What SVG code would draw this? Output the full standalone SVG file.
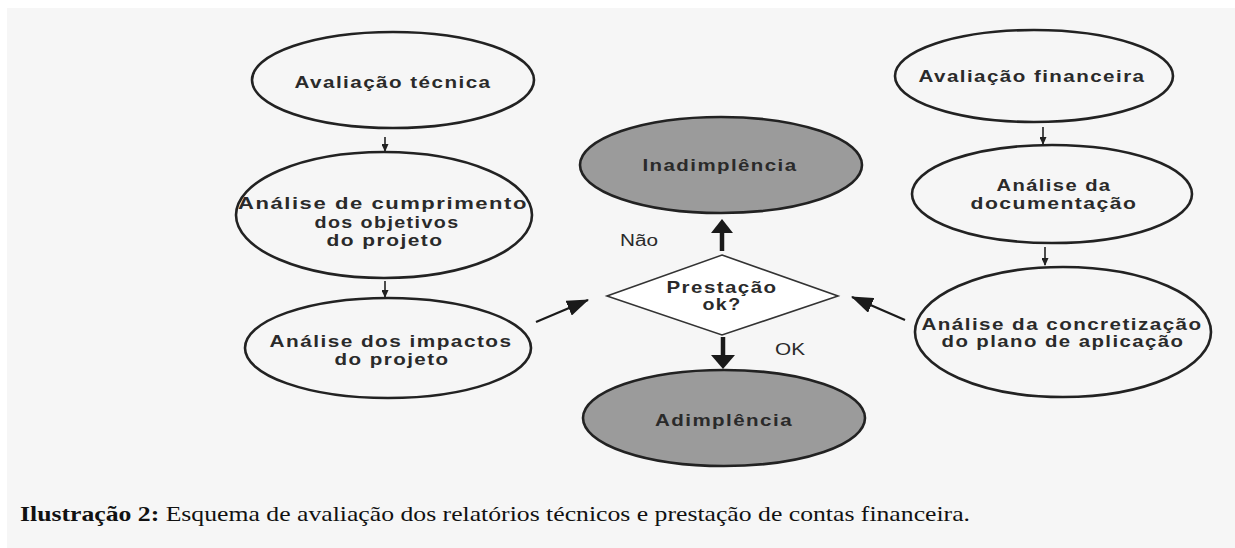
<svg xmlns="http://www.w3.org/2000/svg" width="1235" height="548" viewBox="0 0 1235 548">
<defs>
<marker id="sm" markerWidth="8" markerHeight="7" refX="7" refY="3.5" orient="auto" markerUnits="userSpaceOnUse">
<path d="M0,0 L8,3.5 L0,7 Z" fill="#222"/>
</marker>
<marker id="mid" markerWidth="22" markerHeight="16" refX="21" refY="8" orient="auto" markerUnits="userSpaceOnUse">
<path d="M0,0 L22,8 L0,16 Z" fill="#1a1a1a"/>
</marker>
</defs>
<style>
.el{fill:none;stroke:#222;stroke-width:2.6}
.elg{fill:#9b9b9b;stroke:#222;stroke-width:2.6}
.t{font-family:"Liberation Sans",Arial,sans-serif;font-size:17px;font-weight:bold;letter-spacing:1.2px;fill:#2a2a2a;text-anchor:middle}
.lb{font-family:"Liberation Sans",Arial,sans-serif;font-size:16px;fill:#2a2a2a;text-anchor:middle}
.thin{stroke:#222;stroke-width:1.6;fill:none}
.mid{stroke:#1a1a1a;stroke-width:2.2;fill:none}
.big{stroke:#1a1a1a;stroke-width:4.5;fill:none}
.cap{font-family:"Liberation Serif","Times New Roman",serif;font-size:22px;fill:#111}
</style>
<rect x="0" y="0" width="1235" height="548" fill="#ffffff"/>
<rect x="7" y="8" width="1228" height="540" fill="#f6f6f6"/>

<g id="n-aval-tec">
<ellipse class="el" cx="393" cy="80" rx="141" ry="48"/>
<text class="t" x="393" y="88" textLength="197" lengthAdjust="spacingAndGlyphs">Avaliação técnica</text>
</g>
<g id="n-cumprimento">
<ellipse class="el" cx="384" cy="215" rx="148" ry="63"/>
<text class="t" x="383" y="209" textLength="290" lengthAdjust="spacingAndGlyphs">Análise de cumprimento</text>
<text class="t" x="387" y="228" textLength="145" lengthAdjust="spacingAndGlyphs">dos objetivos</text>
<text class="t" x="385" y="246" textLength="117" lengthAdjust="spacingAndGlyphs">do projeto</text>
</g>
<g id="n-impactos">
<ellipse class="el" cx="388" cy="348" rx="143" ry="50"/>
<text class="t" x="391" y="347" textLength="243" lengthAdjust="spacingAndGlyphs">Análise dos impactos</text>
<text class="t" x="392" y="365" textLength="115" lengthAdjust="spacingAndGlyphs">do projeto</text>
</g>

<g id="n-inadimplencia">
<ellipse class="elg" cx="721" cy="165" rx="141" ry="48"/>
<text class="t" x="720" y="171" textLength="155" lengthAdjust="spacingAndGlyphs">Inadimplência</text>
</g>
<g id="n-prestacao">
<polygon points="722,255 838,296 722,335 607,296" fill="#ffffff" stroke="#333" stroke-width="1.6"/>
<text class="t" x="722" y="293" textLength="111" lengthAdjust="spacingAndGlyphs">Prestação</text>
<text class="t" x="722" y="310" textLength="39" lengthAdjust="spacingAndGlyphs">ok?</text>
</g>
<g id="n-adimplencia">
<ellipse class="elg" cx="724" cy="418" rx="141" ry="48"/>
<text class="t" x="724" y="426" textLength="138" lengthAdjust="spacingAndGlyphs">Adimplência</text>
</g>

<g id="n-aval-fin">
<ellipse class="el" cx="1034" cy="76" rx="139" ry="46"/>
<text class="t" x="1032" y="82" textLength="227" lengthAdjust="spacingAndGlyphs">Avaliação financeira</text>
</g>
<g id="n-documentacao">
<ellipse class="el" cx="1052" cy="194" rx="140" ry="49"/>
<text class="t" x="1054" y="191" textLength="115" lengthAdjust="spacingAndGlyphs">Análise da</text>
<text class="t" x="1054" y="209" textLength="167" lengthAdjust="spacingAndGlyphs">documentação</text>
</g>
<g id="n-concretizacao">
<ellipse class="el" cx="1063" cy="332" rx="148" ry="65"/>
<text class="t" x="1062" y="330" textLength="281" lengthAdjust="spacingAndGlyphs">Análise da concretização</text>
<text class="t" x="1063" y="347" textLength="243" lengthAdjust="spacingAndGlyphs">do plano de aplicação</text>
</g>

<g id="connectors">
<line class="thin" x1="385" y1="137" x2="385" y2="151" marker-end="url(#sm)"/>
<line class="thin" x1="385" y1="281" x2="385" y2="297" marker-end="url(#sm)"/>
<line class="thin" x1="1043" y1="127" x2="1043" y2="144" marker-end="url(#sm)"/>
<line class="thin" x1="1045" y1="247" x2="1045" y2="265" marker-end="url(#sm)"/>
<line class="mid" x1="536" y1="322" x2="588" y2="300" marker-end="url(#mid)"/>
<line class="mid" x1="905" y1="320" x2="852" y2="297" marker-end="url(#mid)"/>
<line class="big" x1="722" y1="251" x2="722" y2="232"/>
<polygon points="722,219 733,233 711,233" fill="#1a1a1a"/>
<line class="big" x1="723" y1="337" x2="723" y2="357"/>
<polygon points="723,369 735,355 711,355" fill="#1a1a1a"/>
<text class="lb" x="639" y="246" textLength="38" lengthAdjust="spacingAndGlyphs">Não</text>
<text class="lb" x="790" y="355" textLength="30" lengthAdjust="spacingAndGlyphs">OK</text>
</g>

<text class="cap" x="20" y="521" textLength="950" lengthAdjust="spacingAndGlyphs"><tspan font-weight="bold">Ilustração 2:</tspan> Esquema de avaliação dos relatórios técnicos e prestação de contas financeira.</text>
</svg>
